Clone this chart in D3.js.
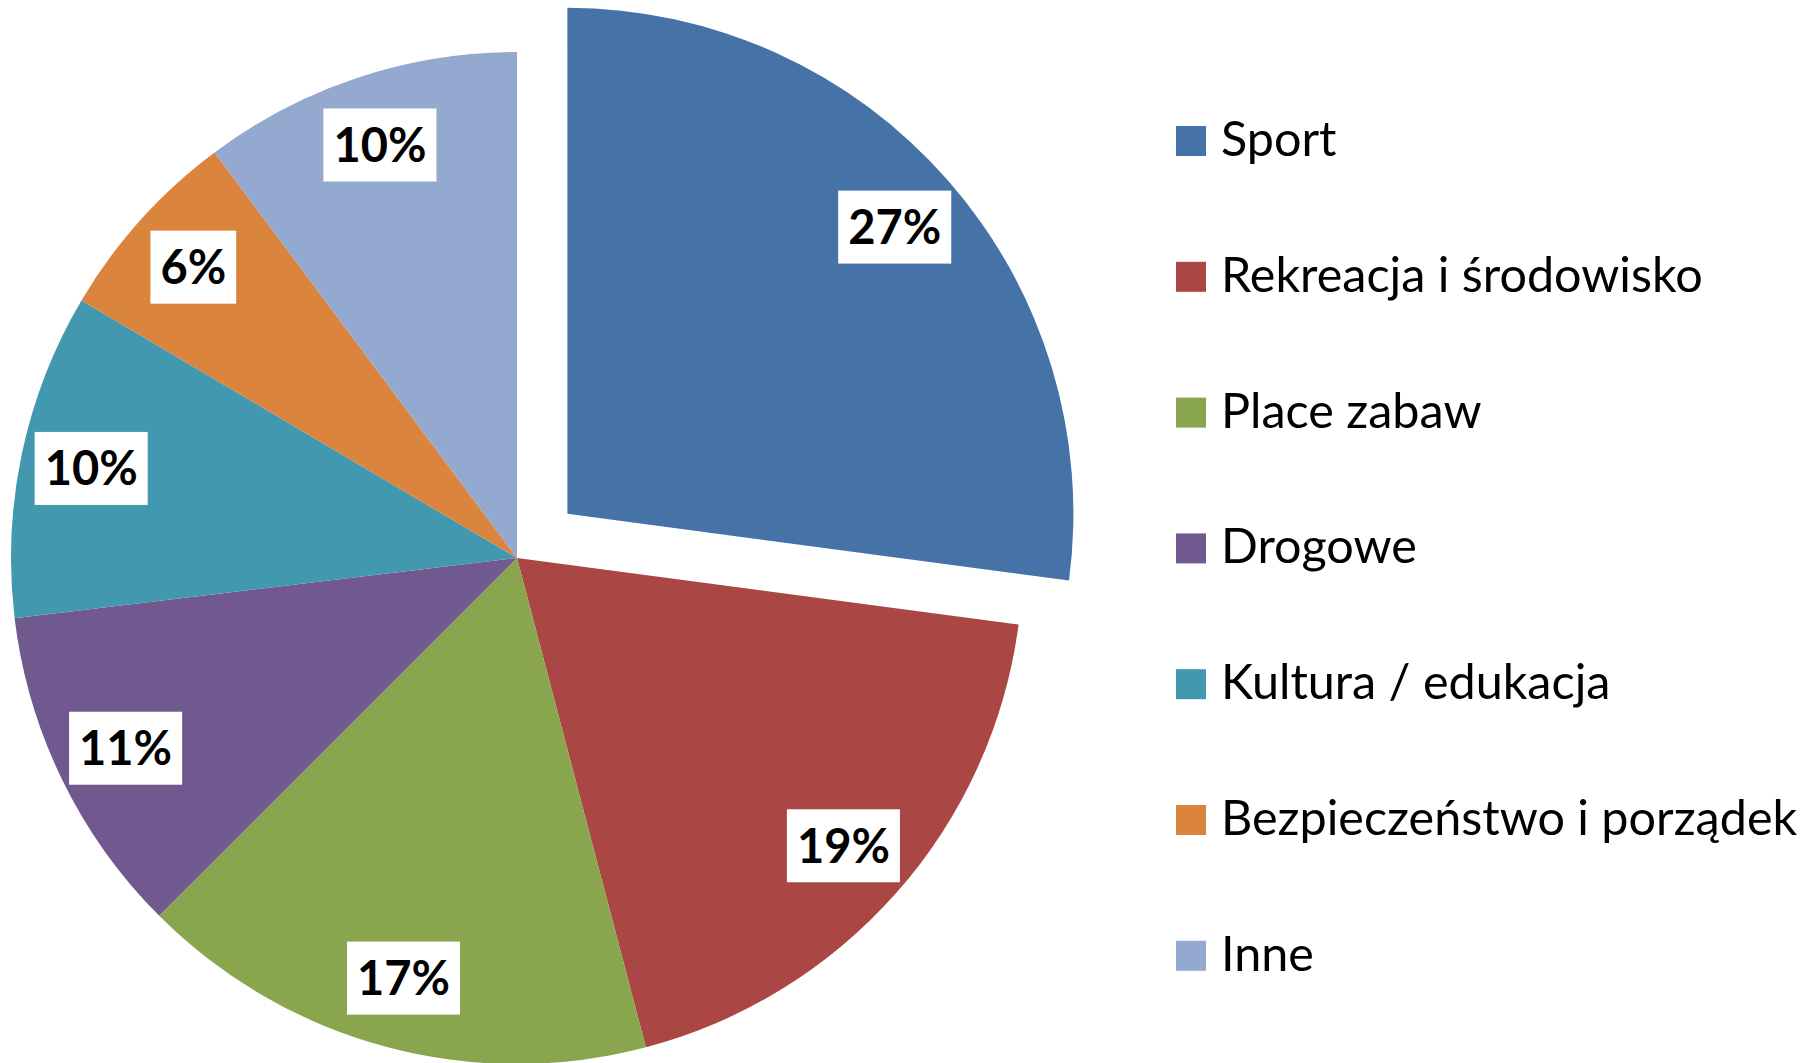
<!DOCTYPE html>
<html>
<head>
<meta charset="utf-8">
<script src="https://cdn.jsdelivr.net/npm/d3@7"></script>
<style>
  html, body { margin: 0; padding: 0; background: #fff; }
  svg { display: block; }
</style>
</head>
<body>
<svg id="chart" width="1819" height="1063"></svg>
<script>
const categories = ["Sport", "Rekreacja i środowisko", "Place zabaw", "Drogowe", "Kultura / edukacja", "Bezpieczeństwo i porządek", "Inne"];
const values = [27.1, 18.8, 16.6, 10.6, 10.4, 6.3, 10.2];
const colors = ["#4572A7", "#AA4643", "#89A54E", "#71588F", "#4198AF", "#DB843D", "#93A9CF"];
const explodedIndex = 0;

const svg = d3.select("#chart");
const cx = 517, cy = 558, r = 506, explode = 67;

const total = d3.sum(values);
const pie = d3.pie().sort(null).value(d => d.value);
const data = categories.map((c, i) => ({ name: c, value: values[i], color: colors[i], i }));
const arcs = pie(data);
const arc = d3.arc().innerRadius(0).outerRadius(r);
const labelArc = d3.arc().innerRadius(r * 0.86).outerRadius(r * 0.86);

const g = svg.append("g").attr("transform", `translate(${cx},${cy})`);

function offset(d) {
  if (d.data.i !== explodedIndex) return [0, 0];
  const a = (d.startAngle + d.endAngle) / 2;
  return [Math.sin(a) * explode, -Math.cos(a) * explode];
}

const slices = g.selectAll("g.slice").data(arcs).join("g")
  .attr("class", "slice")
  .attr("transform", d => { const o = offset(d); return `translate(${o[0]},${o[1]})`; });

slices.append("path")
  .attr("d", arc)
  .attr("fill", d => d.data.color);

slices.each(function(d) {
  const sel = d3.select(this);
  const [x, y] = labelArc.centroid(d);
  const txt = Math.round(d.data.value / total * 100) + "%";
  const t = sel.append("text")
    .attr("x", x).attr("y", y + 17)
    .attr("text-anchor", "middle")
    .style("font-family", "Lato, 'Open Sans', sans-serif")
    .style("font-weight", "bold")
    .style("font-size", "47px")
    .attr("fill", "#000")
    .text(txt);
  const w = t.node().getComputedTextLength();
  sel.insert("rect", "text")
    .attr("x", x - w / 2 - 10)
    .attr("y", y - 36.5)
    .attr("width", w + 20)
    .attr("height", 73)
    .attr("fill", "#fff");
});

// Legend
const legend = svg.append("g");
const legY0 = 156, legStep = 135.8;
const items = legend.selectAll("g").data(data).join("g")
  .attr("transform", (d, i) => `translate(1176,${legY0 + i * legStep})`);
items.append("rect")
  .attr("x", 0).attr("y", -30).attr("width", 30).attr("height", 30)
  .attr("fill", d => d.color);
items.append("text")
  .attr("x", 45).attr("y", 0)
  .style("font-family", "Lato, 'Open Sans', sans-serif")
  .style("font-size", "48.5px")
  .attr("fill", "#000")
  .text(d => d.name);
</script>
</body>
</html>
